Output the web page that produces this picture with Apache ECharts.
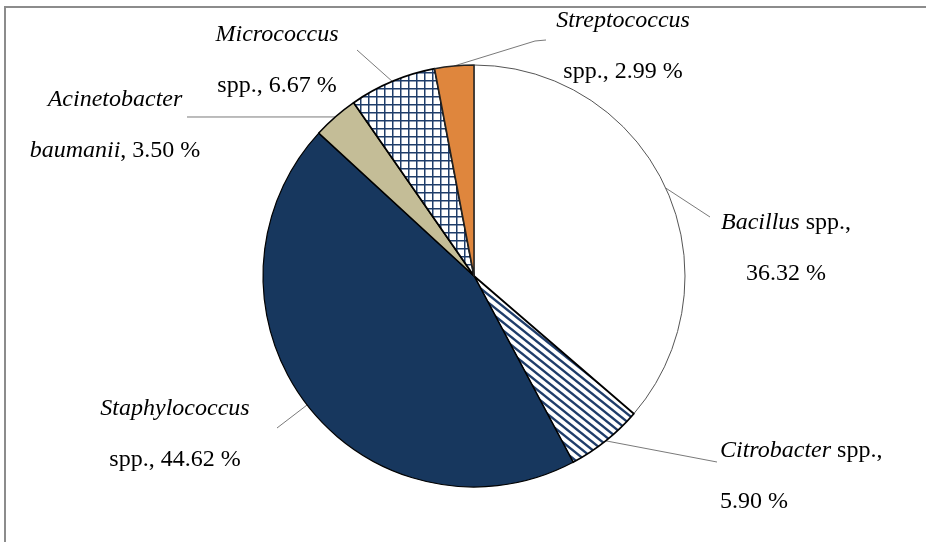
<!DOCTYPE html>
<html>
<head>
<meta charset="utf-8">
<script src="https://cdn.jsdelivr.net/npm/echarts@6/dist/echarts.min.js"></script>
<style>
  html, body { margin: 0; padding: 0; background: #fff; }
  #main { width: 926px; height: 542px; }
</style>
</head>
<body>
<div id="main"></div>
<script>
// data (clockwise from 12 o'clock)
var genera = ['Bacillus', 'Citrobacter', 'Staphylococcus', 'Acinetobacter', 'Micrococcus', 'Streptococcus'];
var epithets = ['spp.', 'spp.', 'spp.', 'baumanii', 'spp.', 'spp.'];
var percents = [36.32, 5.90, 44.62, 3.50, 6.67, 2.99];
// where the label wraps: after the epithet or after the genus
var wrapAfter = ['epithet', 'epithet', 'genus', 'genus', 'genus', 'genus'];

// label placement (centre of text block) and leader line bends
var labelSpots = [[786, 248, 'center'], [720, 476, 'left'], [175, 434, 'center'], [115, 125, 'center'], [277, 60, 'center'], [623, 46, 'center']];
var leaderBends = [[[710, 217]], [[717, 462]], [[277, 428]], [[187, 117]], [[357, 50]], [[535, 41], [546, 40]]];

var navy = '#17375E';
var hatch = '#1F3D6A';

// diagonal stripes for Citrobacter
function stripePattern() {
     var c = document.createElement('canvas');
     c.width = 10;
     c.height = 8;
     var ctx = c.getContext('2d');
     ctx.fillStyle = '#fff';
     ctx.fillRect(0, 0, 10, 8);
     ctx.strokeStyle = hatch;
     ctx.lineWidth = 2.4;
     for (var k = -1; k <= 1; k++) {
          ctx.beginPath();
          ctx.moveTo(-10, -8 + 8 * k);
          ctx.lineTo(20, 16 + 8 * k);
          ctx.stroke();
     }
     return c;
}
// square grid for Micrococcus
function gridPattern() {
     var c = document.createElement('canvas');
     c.width = 8;
     c.height = 8;
     var ctx = c.getContext('2d');
     ctx.fillStyle = '#fff';
     ctx.fillRect(0, 0, 8, 8);
     ctx.fillStyle = hatch;
     ctx.fillRect(0, 0, 8, 1.5);
     ctx.fillRect(0, 0, 1.5, 8);
     return c;
}

var fills = [
     '#ffffff',
     { image: stripePattern(), repeat: 'repeat' },
     navy,
     '#C4BD97',
     { image: gridPattern(), repeat: 'repeat' },
     '#DF863D'
];
var borders = [
     { borderColor: '#555', borderWidth: 1 },
     { borderColor: '#000', borderWidth: 1.8 },
     { borderColor: '#000', borderWidth: 1.2 },
     { borderColor: '#000', borderWidth: 1.5 },
     { borderColor: '#000', borderWidth: 1.8 },
     { borderColor: '#222', borderWidth: 1.5 }
];

function labelText(i) {
     var ep = epithets[i] === 'spp.' ? 'spp.' : '{i|' + epithets[i] + '}';
     var pct = percents[i].toFixed(2) + ' %';
     if (wrapAfter[i] === 'epithet') {
          return '{i|' + genera[i] + '} ' + ep + ',\n' + pct;
     }
     return '{i|' + genera[i] + '}\n' + ep + ', ' + pct;
}

var seriesData = genera.map(function (g, i) {
     return {
          name: g,
          value: percents[i],
          itemStyle: Object.assign({ color: fills[i] }, borders[i]),
          label: { align: labelSpots[i][2] }
     };
});

var myChart = echarts.init(document.getElementById('main'));
var option = {
     animation: false,
     backgroundColor: '#fff',
     graphic: [{
          type: 'rect',
          shape: { x: 5, y: 7, width: 1000, height: 600 },
          style: { fill: 'none', stroke: '#8c8c8c', lineWidth: 2 }
     }],
     series: [{
          type: 'pie',
          center: [474, 276],
          radius: 211,
          startAngle: 90,
          clockwise: true,
          data: seriesData,
          label: {
               show: true,
               position: 'outside',
               fontFamily: 'Liberation Serif',
               fontSize: 24,
               lineHeight: 51,
               color: '#000',
               formatter: function (p) {
                    return labelText(p.dataIndex);
               },
               rich: {
                    i: {
                         fontFamily: 'Liberation Serif',
                         fontStyle: 'italic',
                         fontSize: 24,
                         lineHeight: 51,
                         color: '#000'
                    }
               }
          },
          labelLine: {
               show: true,
               lineStyle: { color: '#7a7a7a', width: 1 }
          },
          labelLayout: function (params) {
               var i = params.dataIndex;
               var start = params.labelLinePoints ? params.labelLinePoints[0] : null;
               var out = {
                    x: labelSpots[i][0],
                    y: labelSpots[i][1],
                    align: labelSpots[i][2],
                    verticalAlign: 'middle'
               };
               if (start) {
                    out.labelLinePoints = [start].concat(leaderBends[i]);
               }
               return out;
          }
     }]
};
myChart.setOption(option);
</script>
</body>
</html>
